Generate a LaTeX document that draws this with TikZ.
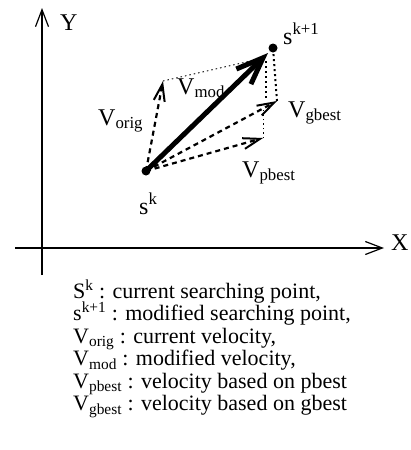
\documentclass[tikz,border=0pt]{standalone}
\usepackage{fontspec}
\setmainfont{Liberation Serif}
\usetikzlibrary{arrows.meta,positioning,calc}

\begin{document}
\begin{tikzpicture}[
    x=1pt, y=-1pt,
    axis/.style={line width=1.2pt, -{Straight Barb[length=17pt,width=13pt,line width=1.2pt]}},
    vel/.style={line width=2.2pt, dash pattern=on 5pt off 4pt, -{Straight Barb[length=17pt,width=11pt,line width=2pt]}},
    modvel/.style={line width=5pt, -{Straight Barb[length=27pt,width=21pt,line width=5pt]}},
    guide/.style={line width=0.9pt, dash pattern=on 1.5pt off 3pt},
    guidebold/.style={line width=2pt, dash pattern=on 2pt off 3pt},
    dot/.style={circle, fill=black, inner sep=0pt, minimum size=9pt},
    lbl/.style={font=\fontsize{24}{28}\selectfont, inner sep=0pt, anchor=base west},
    legend/.style={font=\fontsize{22}{22}\selectfont, inner sep=0pt, anchor=base west},
  ]
  \useasboundingbox (0,0) rectangle (411,450);

  % axes
  \coordinate (origin) at (42,248);
  \coordinate (ybot) at (42,275);
  \coordinate (ytop) at (42,8);
  \coordinate (xleft) at (15,248);
  \coordinate (xright) at (384,248);
  \draw[axis] (ybot) -- (ytop);
  \draw[axis] (xleft) -- (xright);
  \node[lbl] (ylbl) at (60,30) {Y};
  \node[lbl] (xlbl) at (391,250) {X};

  % points
  \node[dot] (sk) at (146,171) {};
  \node[dot] (sk1) at (273,48) {};
  \node[lbl] (sklbl) at (139,214) {s\textsuperscript{k}};
  \node[lbl] (sk1lbl) at (283,44) {s\textsuperscript{k+1}};

  % velocity tips
  \coordinate (orig) at (163,81);
  \coordinate (pbest) at (263,138);
  \coordinate (gbest) at (277,101);
  \coordinate (pbup) at (263,108);
  \coordinate (modtip) at (268,53);
  \coordinate (topend) at (268,57);
  \coordinate (gbl) at (266,98);
  \coordinate (gbt) at (266,61);

  % guide lines
  \draw[guide] (orig) -- (topend);
  \draw[guide] (pbest) -- (pbup);
  \draw[guidebold] (gbest) -- (sk1);
  \draw[guidebold] (gbl) -- (gbt);

  % velocities
  \draw[vel] (sk.center) -- (orig);
  \draw[vel] (sk.center) -- (pbest);
  \draw[vel] (sk.center) -- (gbest);
  \draw[modvel] (sk.center) -- (modtip);

  \node[lbl] (origlbl) at (98,125) {V\textsubscript{orig}};
  \node[lbl] (modlbl) at (177,94) {V\textsubscript{mod}};
  \node[lbl] (gbestlbl) at (288,117) {V\textsubscript{gbest}};
  \node[lbl] (pbestlbl) at (242,177) {V\textsubscript{pbest}};

  % legend
  \node[legend] (leg1) at (73,298) {S\textsuperscript{k} : current searching point,};
  \node[legend] (leg2) at (73,320.5) {s\textsuperscript{k+1} : modified searching point,};
  \node[legend] (leg3) at (73,343) {V\textsubscript{orig} : current velocity,};
  \node[legend] (leg4) at (73,365.5) {V\textsubscript{mod} : modified velocity,};
  \node[legend] (leg5) at (73,388) {V\textsubscript{pbest} : velocity based on pbest};
  \node[legend] (leg6) at (73,410.5) {V\textsubscript{gbest} : velocity based on gbest};
\end{tikzpicture}
\end{document}
